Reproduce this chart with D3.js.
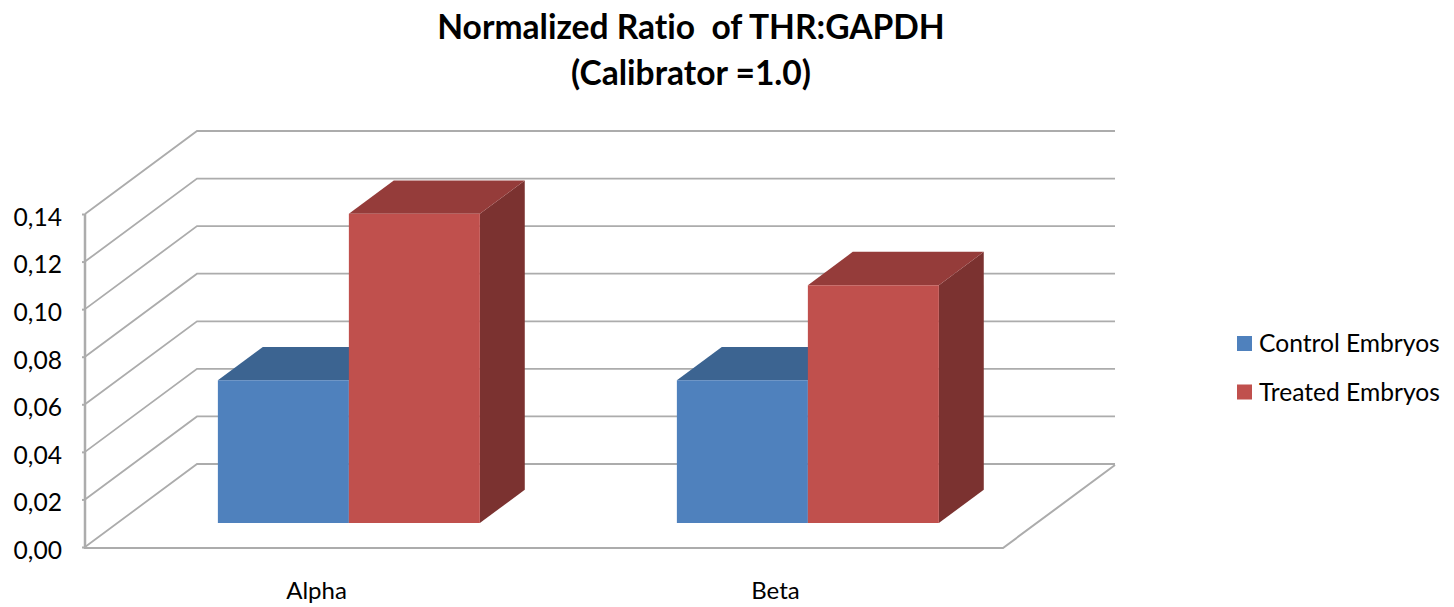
<!DOCTYPE html>
<html>
<head>
<meta charset="utf-8">
<script src="https://cdn.jsdelivr.net/npm/d3@7"></script>
<style>
    html, body { margin: 0; padding: 0; background: #fff; }
    svg { display: block; }
    svg text { font-family: Lato, "Open Sans", sans-serif; font-variant-ligatures: none; }
    .domain { display: none; }
</style>
</head>
<body>
<svg width="1454" height="607"></svg>
<script>
const categories = ["Alpha", "Beta"];
const seriesNames = ["Control Embryos", "Treated Embryos"];
const controlValues = [0.06, 0.06];
const treatedValues = [0.13, 0.10];
const tickValues = [0, 0.02, 0.04, 0.06, 0.08, 0.10, 0.12, 0.14];
const titleLines = ["Normalized Ratio  of THR:GAPDH", "(Calibrator =1.0)"];

const colors = {
    front: ["#4f81bd", "#c0504d"],
    top: ["#3c6491", "#953c3a"],
    side: ["#2f4f74", "#7b3230"]
};
const gridColor = "#acacac";

const svg = d3.select("svg");

// передняя плоскость и сдвиг задней стенки
const scY = d3.scaleLinear().domain([0, 0.14]).range([547, 214]);
const scX = d3.scaleBand().domain(categories).range([87, 1005]);
const scSeries = d3.scaleBand().domain(seriesNames)
    .range([0, scX.bandwidth()])
    .paddingInner(0)
    .paddingOuter(0.752);
const wall = { dx: 112, dy: -83 };
const barDepth = { near: 0.289, far: 0.69 };

// точка на полу/стенке с учетом глубины
function project(x, value, depth) {
    return [x + wall.dx * depth, scY(value) + wall.dy * depth];
}

function drawGrid() {
    const backRight = 1115;
    svg.append("g").selectAll("path")
        .data(tickValues)
        .enter()
        .append("path")
        .attr("d", d => {
            const front = [85, scY(d)];
            const back = project(85, d, 1);
            return d3.line()([front, back, [backRight, back[1]]]);
        })
        .attr("fill", "none")
        .attr("stroke", gridColor)
        .attr("stroke-width", 1.8);

    // край пола и вертикальная ось
    const floorRight = 1003;
    svg.append("path")
        .attr("d", d3.line()([[85, scY(0) + 1], [floorRight, scY(0) + 1], [backRight, scY(0) + wall.dy + 1]]))
        .attr("fill", "none")
        .attr("stroke", gridColor)
        .attr("stroke-width", 2);
    svg.append("line")
        .attr("x1", 85).attr("x2", 85)
        .attr("y1", scY(0.14)).attr("y2", scY(0) + 2)
        .attr("stroke", gridColor)
        .attr("stroke-width", 2.5);
}

function drawBar(group, category, seriesIndex, value) {
    const x0 = scX(category) + scSeries(seriesNames[seriesIndex]);
    const x1 = x0 + scSeries.bandwidth();
    const a = project(x0, value, barDepth.near);
    const b = project(x1, value, barDepth.near);
    const c = project(x1, value, barDepth.far);
    const d = project(x0, value, barDepth.far);
    const e = project(x1, 0, barDepth.near);
    const f = project(x1, 0, barDepth.far);
    const g = project(x0, 0, barDepth.near);

    group.append("polygon")
        .attr("points", [b, c, f, e].join(" "))
        .attr("fill", colors.side[seriesIndex]);
    group.append("polygon")
        .attr("points", [a, b, c, d].join(" "))
        .attr("fill", colors.top[seriesIndex]);
    group.append("polygon")
        .attr("points", [a, b, e, g].join(" "))
        .attr("fill", colors.front[seriesIndex]);
}

function drawBars() {
    const group = svg.append("g");
    categories.forEach((category, i) => {
        drawBar(group, category, 0, controlValues[i]);
        drawBar(group, category, 1, treatedValues[i]);
    });
}

function drawAxes() {
    const axisY = d3.axisLeft(scY)
        .tickValues(tickValues)
        .tickSize(3)
        .tickPadding(20)
        .tickFormat(d => d3.format(".2f")(d).replace(".", ","));
    const gY = svg.append("g")
        .attr("transform", "translate(85, 0)")
        .call(axisY);
    gY.selectAll("line").attr("stroke", gridColor).attr("stroke-width", 2);
    gY.selectAll("text")
        .attr("fill", "#000")
        .attr("dy", "0.46em")
        .style("font-size", "24.6px");

    const axisX = d3.axisBottom(scX).tickSize(0).tickPadding(35);
    const gX = svg.append("g")
        .attr("transform", `translate(0, ${scY(0)})`)
        .call(axisX);
    gX.selectAll("text")
        .attr("fill", "#000")
        .style("font-size", "24px");
}

function drawLegend() {
    const legend = svg.append("g").selectAll("g")
        .data(seriesNames)
        .enter()
        .append("g")
        .attr("transform", (d, i) => `translate(1237, ${336 + i * 48.5})`);
    legend.append("rect")
        .attr("width", 15)
        .attr("height", 15)
        .attr("fill", (d, i) => colors.front[i]);
    legend.append("text")
        .attr("x", 22)
        .attr("y", 16)
        .style("font-size", "24.6px")
        .text(d => d);
}

function drawTitle() {
    svg.append("g").selectAll("text")
        .data(titleLines)
        .enter()
        .append("text")
        .attr("x", 691)
        .attr("y", (d, i) => 39 + i * 46)
        .attr("text-anchor", "middle")
        .style("font-size", "33.6px")
        .style("font-weight", "bold")
        .style("white-space", "pre")
        .text(d => d);
}

drawGrid();
drawBars();
drawAxes();
drawLegend();
drawTitle();
</script>
</body>
</html>
